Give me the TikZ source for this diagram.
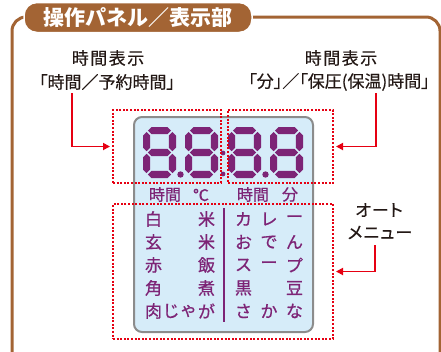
\documentclass[tikz,border=0pt]{standalone}
\usepackage{fontspec}
\setmainfont{Noto Sans CJK JP}
\newfontfamily\cjkp[RawFeature=+palt,FakeBold=0.4]{Noto Sans CJK JP}
\newfontfamily\cjkmed[FakeBold=0.7]{Noto Sans CJK JP}
\usetikzlibrary{arrows.meta}
\definecolor{brownc}{RGB}{163,100,52}
\definecolor{redc}{RGB}{230,0,18}
\definecolor{purp}{RGB}{125,36,118}
\definecolor{lcdfill}{RGB}{214,236,249}
\definecolor{lcdedge}{RGB}{140,140,140}
\definecolor{inkc}{RGB}{35,24,21}
\def\dw{33}\def\dh{51}\def\dt{3.6}\def\dg{1.3}
\newcommand\hsegm[1]{\fill[purp] ({\dt+\dg},{#1}) -- ({2*\dt+\dg},{#1-\dt}) -- ({\dw-2*\dt-\dg},{#1-\dt}) -- ({\dw-\dt-\dg},{#1}) -- ({\dw-2*\dt-\dg},{#1+\dt}) -- ({2*\dt+\dg},{#1+\dt}) -- cycle;}
\newcommand\vsegm[3]{\fill[purp] ({#1},{#2}) -- ({#1+\dt},{#2+\dt}) -- ({#1+\dt},{#3-\dt}) -- ({#1},{#3}) -- ({#1-\dt},{#3-\dt}) -- ({#1-\dt},{#2+\dt}) -- cycle;}
\tikzset{
  redline/.style={draw=redc, line width=1.8pt, -{Triangle[length=7pt,width=7pt]}, shorten >=2pt},
  dotbox/.style={draw=redc, line width=2pt, dash pattern=on 2pt off 1.6pt, inner sep=0pt},
  lbl/.style={text=inkc, font=\cjkp\fontsize{17}{20}\selectfont, inner sep=0pt},
  menuch/.style={text=purp, font=\cjkmed\fontsize{17}{19}\selectfont, inner sep=0pt},
  subl/.style={text=purp, font=\cjkmed\fontsize{16}{18}\selectfont, inner sep=0pt},
  lcdseg/.pic={
    \hsegm{\dt}
    \hsegm{\dh/2}
    \hsegm{\dh-\dt}
    \vsegm{\dt}{\dt+\dg}{\dh/2-\dg}
    \vsegm{\dw-\dt}{\dt+\dg}{\dh/2-\dg}
    \vsegm{\dt}{\dh/2+\dg}{\dh-\dt-\dg}
    \vsegm{\dw-\dt}{\dh/2+\dg}{\dh-\dt-\dg}
  }
}
\begin{document}
\begin{tikzpicture}[x=1pt,y=-1pt]
\useasboundingbox (0,0) rectangle (441,351);
% outer frame
\draw[brownc, line width=3pt, rounded corners=14pt] (12,355) -- (12,17) -- (440,17) -- (440,355);
% title tab
\node[fill=brownc, draw=white, line width=1.5pt, rounded corners=13pt, minimum width=228pt, minimum height=30pt, inner sep=0pt, text=white, font=\bfseries\fontsize{21}{24}\selectfont] (title) at (138,17.5) {操作パネル／表示部};
% labels
\node[lbl] (lblL1) at (108,58) {時\kern1.5pt間\kern1.5pt表\kern1.5pt示};
\node[lbl] (lblL2) at (107,82) {「時間／予約時間」};
\node[lbl] (lblR1) at (341,58) {時\kern1.5pt間\kern1.5pt表\kern1.5pt示};
\node[lbl] (lblR2) at (339,82) {「分」／「保圧(保温)時間」};
% LCD panel
\node[draw=lcdedge, fill=lcdfill, line width=2pt, rounded corners=8pt, minimum width=179pt, minimum height=215pt, inner sep=0pt] (lcd) at (223.5,224.5) {};
% digits
\pic at (143,127) {lcdseg};
\pic at (185,127) {lcdseg};
\pic at (228,127) {lcdseg};
\pic at (270,127) {lcdseg};
\fill[purp] (180.5,174.5) circle[radius=3.2pt];
\fill[purp] (265.5,174.5) circle[radius=3.2pt];
\fill[purp] (223,153) circle[radius=2.4pt];
\fill[purp] (223,174) circle[radius=2.4pt];
% sub labels
\node[subl] (s1) at (165,194.5) {時間};
\node[subl] (s2) at (201,195) {℃};
\node[subl] (s3) at (253,194.5) {時間};
\node[subl] (s4) at (290,194.5) {分};
% menu
\node[menuch] (a1) at (153.5,219) {白};
\node[menuch] (a2) at (206.5,219) {米};
\node[menuch] (b1) at (153.5,242) {玄};
\node[menuch] (b2) at (206.5,242) {米};
\node[menuch] (c1) at (153.5,265) {赤};
\node[menuch] (c2) at (206.5,265) {飯};
\node[menuch] (d1) at (153.5,288) {角};
\node[menuch] (d2) at (206.5,288) {煮};
\node[menuch] (e1) at (153.5,311) {肉};
\node[menuch] (e2) at (171,311) {じ};
\node[menuch] (e3) at (188.5,311) {ゃ};
\node[menuch] (e4) at (206.5,311) {が};
\draw[purp, line width=2.5pt] (224,208) -- (224,322);
\node[menuch] (f1) at (243.5,219) {カ};
\node[menuch] (f2) at (269,219) {レ};
\node[menuch] (f3) at (294.5,219) {ー};
\node[menuch] (g1) at (243.5,242) {お};
\node[menuch] (g2) at (269,242) {で};
\node[menuch] (g3) at (294.5,242) {ん};
\node[menuch] (h1) at (243.5,265) {ス};
\node[menuch] (h2) at (269,265) {ー};
\node[menuch] (h3) at (294.5,265) {プ};
\node[menuch] (i1) at (243.5,288) {黒};
\node[menuch] (i2) at (294.5,288) {豆};
\node[menuch] (j1) at (243.5,311) {さ};
\node[menuch] (j2) at (269,311) {か};
\node[menuch] (j3) at (294.5,311) {な};
% dotted boxes
\node[dotbox, minimum width=108pt, minimum height=73pt] (boxL) at (167,146.5) {};
\node[dotbox, minimum width=105pt, minimum height=73pt] (boxR) at (280.5,146.5) {};
\node[dotbox, minimum width=220pt, minimum height=135pt] (boxM) at (223,271.5) {};
% menu label
\node[lbl] (mn1) at (379,210) {オ\kern1pt ー\kern1pt ト};
\node[lbl] (mn2) at (380,232.5) {メ\kern1pt ニ\kern1pt ュ\kern1pt ー};
% connectors
\coordinate (pL) at (72,93);
\coordinate (pR) at (376,93);
\coordinate (pM) at (375,245);
\draw[redline] (pL) |- (boxL.west);
\draw[redline] (pR) |- (boxR.east);
\draw[redline] (pM) |- (boxM.east);
\end{tikzpicture}
\end{document}
